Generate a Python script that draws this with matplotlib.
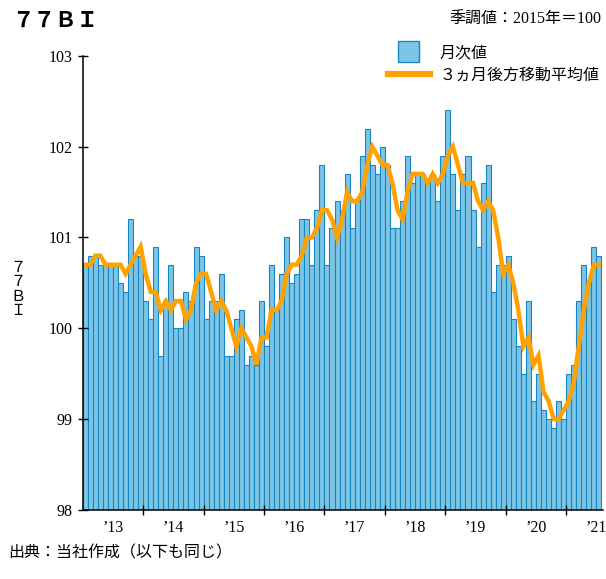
import matplotlib
matplotlib.use('Agg')
import matplotlib.pyplot as plt
import matplotlib.patches as mpatches
from matplotlib.lines import Line2D
from matplotlib.legend_handler import HandlerPatch
import numpy as np

plt.rcParams['font.family'] = ['Liberation Serif', 'Noto Sans CJK JP']

# monthly 77BI, Jan 2013 .. Jul 2021
monthly = [
    100.7, 100.8, 100.8, 100.7, 100.7, 100.7, 100.7, 100.5, 100.4, 101.2, 100.8, 100.8,  # 2013
    100.3, 100.1, 100.9, 99.7, 100.3, 100.7, 100.0, 100.0, 100.4, 100.3, 100.9, 100.8,   # 2014
    100.1, 100.3, 100.3, 100.6, 99.7, 99.7, 100.1, 100.2, 99.6, 99.7, 99.6, 100.3,       # 2015
    99.8, 100.7, 100.2, 100.6, 101.0, 100.5, 100.6, 101.2, 101.2, 100.7, 101.3, 101.8,   # 2016
    100.7, 101.1, 101.4, 101.3, 101.7, 101.1, 101.4, 101.9, 102.2, 101.8, 101.7, 102.0,  # 2017
    101.8, 101.1, 101.1, 101.4, 101.9, 101.6, 101.7, 101.7, 101.6, 101.7, 101.4, 101.9,  # 2018
    102.4, 101.7, 101.3, 101.7, 101.9, 101.3, 100.9, 101.6, 101.8, 100.4, 100.7, 100.7,  # 2019
    100.8, 100.1, 99.8, 99.5, 100.3, 99.2, 99.5, 99.1, 99.0, 98.9, 99.2, 99.0,           # 2020
    99.5, 99.6, 100.3, 100.7, 100.5, 100.9, 100.8,                                        # 2021
]

# 3-month backward moving average
moving_avg = [
    100.7, 100.7, 100.8, 100.8, 100.7, 100.7, 100.7, 100.7, 100.6, 100.7, 100.8, 100.9,
    100.6, 100.4, 100.4, 100.2, 100.3, 100.2, 100.3, 100.3, 100.1, 100.2, 100.5, 100.6,
    100.6, 100.4, 100.2, 100.3, 100.2, 100.0, 99.8, 100.0, 99.9, 99.8, 99.6, 99.9,
    99.9, 100.2, 100.2, 100.3, 100.6, 100.7, 100.7, 100.8, 101.0, 101.0, 101.1, 101.3,
    101.3, 101.2, 101.0, 101.2, 101.5, 101.4, 101.4, 101.5, 101.8, 102.0, 101.9, 101.8,
    101.8, 101.6, 101.3, 101.2, 101.5, 101.7, 101.7, 101.7, 101.6, 101.7, 101.6, 101.7,
    101.9, 102.0, 101.8, 101.6, 101.6, 101.6, 101.4, 101.3, 101.4, 101.3, 101.0, 100.6,
    100.7, 100.5, 100.2, 99.8, 99.9, 99.6, 99.7, 99.3, 99.2, 99.0, 99.0, 99.1,
    99.2, 99.4, 99.8, 100.2, 100.5, 100.7, 100.7,
]

year_labels = ['’13', '’14', '’15', '’16', '’17', '’18', '’19', '’20', '’21']
y_ticks = [98, 99, 100, 101, 102, 103]

bar_face = '#7EC4E4'
bar_edge = '#1787C4'
ma_color = '#FFA200'

x = np.arange(len(monthly))
base = y_ticks[0]

fig = plt.figure(figsize=(6.06, 5.79), dpi=100)
ax = fig.add_axes([0.1365, 0.1193, 0.8585, 0.7842])

ax.bar(x, np.array(monthly) - base, bottom=base, width=1.0,
       color=bar_face, edgecolor=bar_edge, linewidth=0.8)
ax.plot(x, moving_avg, color=ma_color, linewidth=3.2, solid_joinstyle='miter')

ax.set_ylim(y_ticks[0], y_ticks[-1])
ax.set_xlim(-0.5, len(monthly) - 0.2)
ax.set_yticks(y_ticks)

# year boundaries as ticks, labels centred on each year
ax.set_xticks(np.arange(11.5, len(monthly) - 1, 12))
ax.set_xticklabels([])
ax.set_xticks(np.arange(len(year_labels)) * 12 + 5.5, minor=True)
ax.set_xticklabels(year_labels, minor=True)

ax.tick_params(axis='y', direction='inout', length=7, width=1, pad=4, labelsize=11.5)
ax.tick_params(axis='x', which='major', direction='inout', length=7, width=1)
ax.tick_params(axis='x', which='minor', length=0, pad=7, labelsize=11.5)

for s in ['top', 'right']:
    ax.spines[s].set_visible(False)
for s in ['left', 'bottom']:
    ax.spines[s].set_linewidth(1.1)


def square_patch(legend, orig_handle, xdescent, ydescent, width, height, fontsize):
    s = fontsize * 1.3
    return mpatches.Rectangle((-xdescent + (width - s) / 2, -ydescent + (height - s) / 2), s, s)


handles = [mpatches.Patch(facecolor=bar_face, edgecolor=bar_edge, linewidth=1),
           Line2D([0], [0], color=ma_color, linewidth=4.5)]
fig.legend(handles, ['月次値', '３ヵ月後方移動平均値'],
           loc='upper left', bbox_to_anchor=(388 / 606, 1 - 45 / 579),
           frameon=False, fontsize=11.5, handlelength=2.6, handletextpad=0.6,
           borderpad=0, borderaxespad=0, labelspacing=0.42,
           handler_map={mpatches.Patch: HandlerPatch(patch_func=square_patch)})

fig.text(12 / 606, 1 - 20 / 579, '７７ＢＩ', fontsize=15.5, va='center', ha='left',
         family='Noto Sans CJK JP', fontweight='bold')
fig.text(601 / 606, 1 - 20 / 579, '季調値：2015年＝100', fontsize=11.5, va='center', ha='right')
fig.text(18 / 606, 1 - 290 / 579, '７\n７\nＢ\nＩ', fontsize=11, va='center', ha='center',
         linespacing=1.15)
fig.text(8 / 606, 1 - 553 / 579, '出典：当社作成（以下も同じ）', fontsize=11.5, va='center', ha='left')

fig.savefig('out.png', dpi=100)
